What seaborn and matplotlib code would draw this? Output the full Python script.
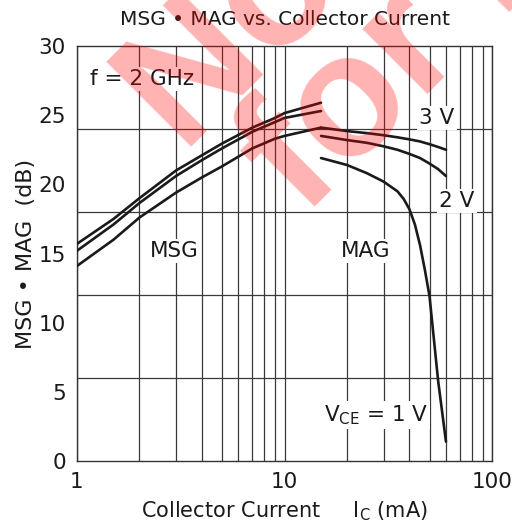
import numpy as np
import pandas as pd
import seaborn as sns
import matplotlib
matplotlib.use('Agg')
import matplotlib.pyplot as plt

# MSG curves (I_C 1..15 mA)
msg_current = [1, 1.5, 2, 3, 4, 5, 7, 9, 10, 15]
msg_top = [15.7, 17.5, 19.0, 21.0, 22.1, 22.95, 24.1, 24.8, 25.15, 25.9]
msg_mid = [15.2, 17.1, 18.65, 20.6, 21.75, 22.6, 23.8, 24.5, 24.8, 25.3]
msg_low = [14.1, 16.0, 17.6, 19.4, 20.5, 21.3, 22.6, 23.3, 23.5, 24.1]

# MAG curves (I_C 15..60 mA)
mag_current = [15, 20, 25, 30, 35, 40, 45, 50, 55, 60]
mag_3v = [24.1, 23.85, 23.7, 23.55, 23.4, 23.25, 23.1, 22.9, 22.7, 22.5]
mag_2v = [23.5, 23.2, 23.0, 22.75, 22.5, 22.2, 21.9, 21.5, 21.1, 20.6]
mag1_current = [15, 20, 25, 30, 35, 37.5, 40, 42.5, 45, 47.5, 50, 55, 60]
mag_1v = [21.9, 21.4, 20.8, 20.2, 19.5, 18.95, 18.2, 17.1, 15.6, 13.8, 11.9, 5.8, 1.4]

x_ticks = [1, 10, 100]
y_ticks = [0, 5, 10, 15, 20, 25, 30]
y_grid = [6, 12, 18, 24]
x_grid = [2, 3, 4, 5, 6, 7, 8, 9, 20, 30, 40, 50, 60, 70, 80, 90]

sns.set_style('white')
plt.rcParams['font.family'] = ['DejaVu Sans']
plt.rcParams['mathtext.fontset'] = 'dejavusans'

rows = []
for name, xs, ys in [('msg_top', msg_current, msg_top), ('msg_mid', msg_current, msg_mid),
                     ('msg_low', msg_current, msg_low), ('mag_3v', mag_current, mag_3v),
                     ('mag_2v', mag_current, mag_2v), ('mag_1v', mag1_current, mag_1v)]:
    for x, y in zip(xs, ys):
        rows.append({'curve': name, 'current': x, 'gain': y})
df = pd.DataFrame(rows)

ink = '#1a1a1a'
fig = plt.figure(figsize=(5.12, 5.28), dpi=100)
ax = fig.add_axes([77/512, 1-461/528, 415/512, 415/528])

for name in df['curve'].unique():
    sns.lineplot(data=df[df['curve'] == name], x='current', y='gain', ax=ax,
                 color=ink, lw=1.9, sort=False, estimator=None, zorder=5)

ax.set_xscale('log')
ax.set_xlim(1, 100)
ax.set_ylim(0, 30)
ax.set_xticks(x_ticks)
ax.set_xticklabels(['1', '10', '100'])
ax.set_xticks(x_grid, minor=True)
ax.set_xticklabels([], minor=True)
ax.set_yticks(y_ticks)
ax.set_yticks(y_grid, minor=True)
ax.tick_params(which='both', length=0, labelsize=15.5, colors=ink)
ax.tick_params(axis='y', pad=8)
ax.tick_params(axis='x', pad=8)
ax.xaxis.grid(True, which='both', color='#3a3a3a', lw=0.9)
ax.yaxis.grid(True, which='minor', color='#3a3a3a', lw=0.9)
ax.yaxis.grid(False, which='major')
ax.set_axisbelow(True)
for s in ax.spines.values():
    s.set_color('#333333')
    s.set_linewidth(1.0)

ax.set_xlabel('Collector Current     I$_\\mathregular{C}$ (mA)', fontsize=15, labelpad=5, color=ink)
ax.set_ylabel('MSG \u2022 MAG  (dB)', fontsize=16, labelpad=2, color=ink)
ax.set_title('MSG \u2022 MAG vs. Collector Current', fontsize=14.5, pad=15, color=ink)

box = dict(facecolor='white', edgecolor='none', pad=1.5)
lab = dict(fontsize=15.5, ha='center', va='center', bbox=box, zorder=4, color=ink)
ax.text(2.06, 27.6, 'f = 2 GHz', **lab)
ax.text(2.94, 15.2, 'MSG', **lab)
ax.text(24.6, 15.2, 'MAG', **lab)
ax.text(54.2, 24.8, '3 V', **lab)
ax.text(67.7, 18.8, '2 V', **lab)
ax.text(27.5, 3.3, 'V$_\\mathregular{CE}$ = 1 V', **lab)

# watermark
wm = dict(fontsize=125, fontweight='bold', color='red', alpha=0.3, rotation=45,
          family='Liberation Sans', rotation_mode='anchor', ha='left', va='baseline', zorder=20)
fig.text(184/512, 1-155/528, 'Not recommended', **wm)
fig.text(304/512, 1-218/528, 'for new design', **wm)

fig.savefig('out.png', dpi=100)
